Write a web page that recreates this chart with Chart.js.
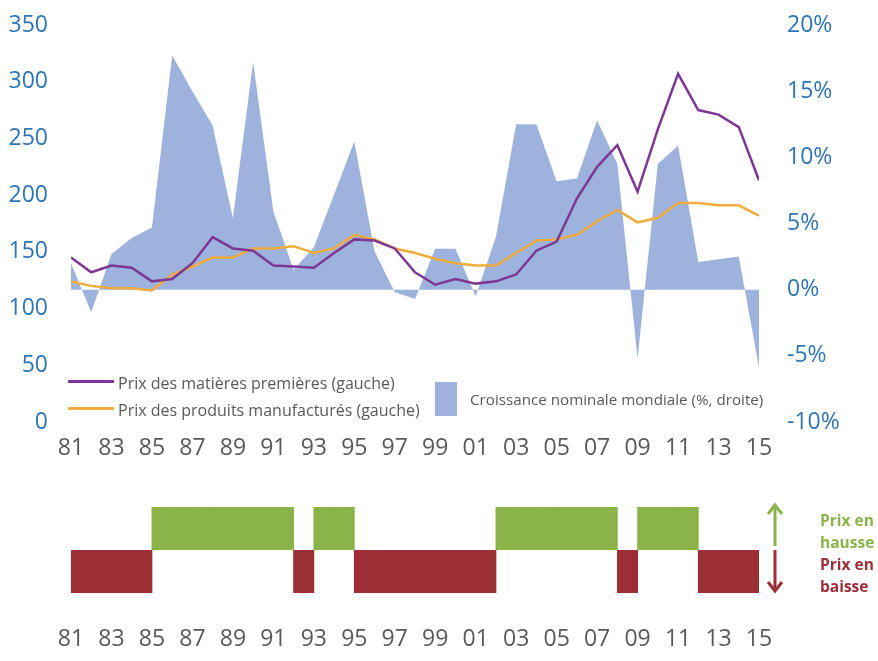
<!DOCTYPE html>
<html lang="fr">
<head>
<meta charset="utf-8">
<script src="https://cdn.jsdelivr.net/npm/chart.js@4/dist/chart.umd.min.js"></script>
<style>
    html, body { margin: 0; padding: 0; background: #fff; }
    #wrap { position: relative; width: 878px; height: 661px; font-family: 'Open Sans', sans-serif; }
    .box { position: absolute; left: 0; width: 878px; }
    .leg { position: absolute; color: #595959; font-size: 16px; line-height: 24px; white-space: nowrap; }
    .trait { position: absolute; left: 68px; width: 46px; height: 3px; }
    .sens { position: absolute; left: 820px; font-weight: 700; font-size: 15.5px; line-height: 22px; }
</style>
</head>
<body>
<div id="wrap">
    <div class="box" style="top:0;height:470px"><canvas id="haut"></canvas></div>
    <div class="box" style="top:470px;height:191px"><canvas id="bas"></canvas></div>

    <div class="trait" style="top:380px;background:#7e3794"></div>
    <div class="leg" style="left:118px;top:371px">Prix des matières premières (gauche)</div>
    <div class="trait" style="top:407px;background:#f0ac3c"></div>
    <div class="leg" style="left:118px;top:398px">Prix des produits manufacturés (gauche)</div>
    <div style="position:absolute;left:435px;top:382px;width:22px;height:34px;background:#9db3dd"></div>
    <div class="leg" style="left:470px;top:387px;font-size:15.2px">Croissance nominale mondiale (%, droite)</div>

    <svg style="position:absolute;left:765px;top:500px" width="22" height="100">
        <line x1="10" y1="8" x2="10" y2="46" stroke="#8ab34a" stroke-width="3"/>
        <polyline points="3,14 10,5 17,14" fill="none" stroke="#8ab34a" stroke-width="3"/>
        <line x1="10" y1="50" x2="10" y2="88" stroke="#9b2f35" stroke-width="3"/>
        <polyline points="3,82 10,91 17,82" fill="none" stroke="#9b2f35" stroke-width="3"/>
    </svg>
    <div class="sens" style="top:509px;color:#8ab34a">Prix en<br>hausse</div>
    <div class="sens" style="top:553px;color:#9b2f35">Prix en<br>baisse</div>
</div>
<script>
// années 1981 -> 2015
const annees = [1981, 1982, 1983, 1984, 1985, 1986, 1987, 1988, 1989, 1990,
    1991, 1992, 1993, 1994, 1995, 1996, 1997, 1998, 1999, 2000,
    2001, 2002, 2003, 2004, 2005, 2006, 2007, 2008, 2009, 2010,
    2011, 2012, 2013, 2014, 2015];

// axe gauche
const prixMatieres = [145, 132, 138, 136, 124, 126, 140, 163, 153, 151,
    138, 137, 136, 149, 161, 160, 153, 132, 121, 126,
    122, 124, 130, 151, 159, 197, 225, 244, 203, 258,
    307, 275, 271, 260, 213];
const prixManufactures = [124, 120, 118, 118, 116, 130, 137, 145, 145, 153,
    153, 155, 149, 153, 165, 161, 153, 149, 144, 140,
    138, 138, 149, 160, 161, 165, 177, 187, 176, 180,
    193, 193, 191, 191, 182];

// axe droit (%)
const croissance = [2.0, -1.7, 2.7, 3.9, 4.7, 17.7, 15.0, 12.4, 5.4, 17.2,
    5.9, 1.5, 3.2, 7.2, 11.2, 2.9, -0.2, -0.7, 3.1, 3.1,
    -0.5, 4.0, 12.5, 12.5, 8.2, 8.4, 12.8, 9.5, -5.2, 9.5,
    10.9, 2.1, 2.3, 2.5, -5.9];

// tendance des prix pour chaque intervalle [année, année+1] : 1 = hausse, -1 = baisse
const tendance = [-1, -1, -1, -1, 1, 1, 1, 1, 1, 1,
    1, -1, 1, 1, -1, -1, -1, -1, -1, -1,
    -1, 1, 1, 1, 1, 1, 1, -1, 1, 1,
    1, -1, -1, -1];

const ticksGauche = [0, 50, 100, 150, 200, 250, 300, 350];
const ticksDroite = [-10, -5, 0, 5, 10, 15, 20];

const bleu = '#2e75b6';
const gris = '#595959';
const police = "'Open Sans', sans-serif";
const etiquetteAnnee = (v) => String(v % 100).padStart(2, '0');

Chart.defaults.font.family = police;
Chart.defaults.animation = false;

const sansGrille = { display: false, drawTicks: false };

const axeAnnees = (padding, hauteur) => ({
    type: 'linear', min: 1981, max: 2015, offset: false,
    grid: sansGrille, border: { display: false },
    ticks: { stepSize: 2, color: gris, font: { size: 23 }, padding, callback: etiquetteAnnee },
    afterFit: (s) => { s.height = hauteur; }
});

// largeur fixe, et pas de marge ajoutée en haut à cause du padding des étiquettes
const fixeAxe = (largeur) => (s) => { s.width = largeur; s.paddingTop = 14; s.paddingBottom = 14; };

const pts = (serie) => annees.map((a, i) => ({ x: a, y: serie[i] }));

new Chart(document.getElementById('haut'), {
    type: 'line',
    data: {
        datasets: [
            { label: 'Prix des matières premières (gauche)', data: pts(prixMatieres), borderColor: '#7e3794', borderWidth: 2.5, yAxisID: 'y', order: 1 },
            { label: 'Prix des produits manufacturés (gauche)', data: pts(prixManufactures), borderColor: '#f0ac3c', borderWidth: 2.5, yAxisID: 'y', order: 2 },
            { label: 'Croissance nominale mondiale (%, droite)', data: pts(croissance), borderWidth: 0, backgroundColor: '#9db3dd', fill: 'origin', yAxisID: 'y1', order: 3 }
        ]
    },
    options: {
        responsive: true, maintainAspectRatio: false,
        layout: { padding: { top: 25 } },
        elements: { point: { radius: 0 }, line: { tension: 0 } },
        plugins: { legend: { display: false }, tooltip: { enabled: false } },
        scales: {
            x: axeAnnees(13, 48),
            y: {
                position: 'left', min: 0, max: 350,
                grid: sansGrille, border: { display: false },
                afterBuildTicks: (s) => { s.ticks = ticksGauche.map(v => ({ value: v })); },
                ticks: { color: bleu, font: { size: 23 }, padding: 23 },
                afterFit: fixeAxe(71)
            },
            y1: {
                position: 'right', min: -10, max: 20,
                grid: sansGrille, border: { display: false },
                afterBuildTicks: (s) => { s.ticks = ticksDroite.map(v => ({ value: v })); },
                ticks: { color: bleu, font: { size: 23 }, padding: 28, callback: (v) => v + '%' },
                afterFit: fixeAxe(119)
            }
        }
    }
});

const barres = (signe) => tendance.map((t, i) => ({ x: annees[i] + 0.5, y: t === signe ? (signe > 0 ? [0, 1] : [-1, 0]) : null }));

new Chart(document.getElementById('bas'), {
    type: 'bar',
    data: {
        datasets: [
            { label: 'Prix en hausse', data: barres(1), backgroundColor: '#8ab34a' },
            { label: 'Prix en baisse', data: barres(-1), backgroundColor: '#9b2f35' }
        ]
    },
    options: {
        responsive: true, maintainAspectRatio: false,
        layout: { padding: { top: 37, left: 71, right: 119 } },
        datasets: { bar: { grouped: false, barPercentage: 1.04, categoryPercentage: 1, borderWidth: 0 } },
        plugins: { legend: { display: false }, tooltip: { enabled: false } },
        scales: {
            x: axeAnnees(33, 68),
            y: { min: -1, max: 1, display: false }
        }
    }
});
</script>
</body>
</html>
